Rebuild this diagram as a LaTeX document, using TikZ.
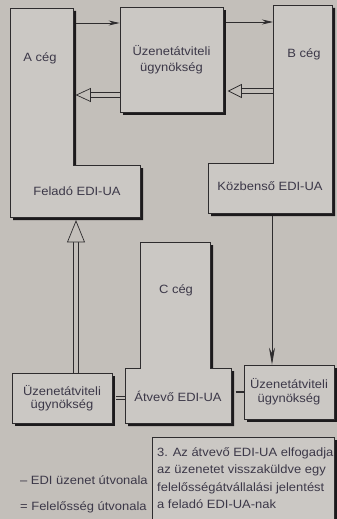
\documentclass[tikz,border=0pt]{standalone}
\usepackage{fontspec}
\setmainfont{Liberation Sans}[FakeStretch=1.08]
\usetikzlibrary{shadows,arrows.meta,calc}
\definecolor{bgc}{HTML}{C3BFBA}
\definecolor{boxc}{HTML}{CBC8C4}
\definecolor{linec}{HTML}{2E2C2E}
\definecolor{shc}{HTML}{1C1A1C}
\definecolor{txtc}{HTML}{3C3848}
\begin{document}
\begin{tikzpicture}[x=1pt,y=-1pt,
  every node/.style={text=txtc, font=\fontsize{12}{15}\selectfont},
  boxline/.style={draw=linec, line width=0.8pt, fill=boxc},
  ubox/.style={boxline, rectangle, inner sep=0pt, align=center,
    drop shadow={shadow xshift=3pt, shadow yshift=-3pt, fill=shc, opacity=1}},
  msg/.style={draw=linec, line width=0.8pt, -{Stealth[length=11pt,width=5pt]}},
  resp/.style={draw=linec, line width=0.7pt, double=bgc, double distance=3.8pt},
  resphead/.style={draw=linec, line width=0.7pt, fill=bgc, line join=miter},
]
\clip (0,0) rectangle (337,519);
\fill[bgc] (0,0) rectangle (337,519);

% ---- A ceg (L shape)
\fill[shc, shift={(3,3)}] (10,8) -- (73,8) -- (73,165) -- (140,165) -- (140,217) -- (10,217) -- cycle;
\draw[boxline] (10,8) -- (73,8) -- (73,165) -- (140,165) -- (140,217) -- (10,217) -- cycle;
\node (acl) at (40,58) {A cég};
\node (afel) at (77,191) {Feladó EDI-UA};

% ---- B ceg (L shape)
\fill[shc, shift={(3,3)}] (273,5) -- (332,5) -- (332,213) -- (208,213) -- (208,163) -- (273,163) -- cycle;
\draw[boxline] (273,5) -- (332,5) -- (332,213) -- (208,213) -- (208,163) -- (273,163) -- cycle;
\node (bcl) at (304,54) {B cég};
\node (bkoz) at (270,186) {Közbenső EDI-UA};

% ---- top agency
\node[ubox, minimum width=103, minimum height=105, font=\fontsize{12}{16}\selectfont] (tuz) at (171.5,59.5) {Üzenetátviteli\\ügynökség};

% ---- connectors at top
\coordinate (aTop) at (76,23);
\coordinate (bTop) at (273,22);
\draw[msg] (aTop) -- (tuz.west |- aTop);
\draw[msg] ($(tuz.east |- bTop)+(3,0)$) -- (bTop);

\coordinate (aMid) at (76.5,95);
\draw[resp] (tuz.west |- aMid) -- ($(aMid)+(12,0)$);
\draw[resphead] (aMid) -- ++(14,-6.5) -- ++(0,13) -- cycle;

\coordinate (bMid) at (273,91);
\coordinate (bTip) at (228.5,91);
\draw[resp] (bMid) -- ($(bTip)+(12,0)$);
\draw[resphead] (bTip) -- ++(13,-6.5) -- ++(0,13) -- cycle;

% ---- lower connector anchors
\coordinate (cL) at (125,398);
\coordinate (cR) at (233,392);
\coordinate (aBot) at (76,221);
\coordinate (bBot) at (272,216);

% ---- C ceg (L shape)
\fill[shc, shift={(3,3)}] (140,242) -- (210,242) -- (210,368) -- (231,368) -- (231,423) -- (125,423) -- (125,368) -- (140,368) -- cycle;
\draw[boxline] (140,242) -- (210,242) -- (210,368) -- (231,368) -- (231,423) -- (125,423) -- (125,368) -- (140,368) -- cycle;
\node (ccl) at (176,290) {C cég};
\node (catv) at (178,396) {Átvevő EDI-UA};

% ---- lower agencies
\node[ubox, minimum width=100, minimum height=50, font=\fontsize{12}{13.5}\selectfont] (luz) at (62,398) {Üzenetátviteli\\ügynökség};
\node[ubox, minimum width=90, minimum height=54, font=\fontsize{12}{14}\selectfont] (ruz) at (289,392) {Üzenetátviteli\\ügynökség};

\draw[resp, double distance=2.6pt] ($(luz.east)+(3.5,0)$) -- (luz.east -| cL);
\draw[draw=linec, line width=2pt] ($(cR)+(2.5,0)$) -- (ruz.west);

\draw[resp, double distance=4.6pt] (luz.north -| aBot) -- ($(aBot)+(0,20)$);
\draw[resphead] (aBot) -- ++(-8.5,21) -- ++(17,0) -- cycle;

\draw[msg, -{Stealth[length=17pt,width=6pt]}] (bBot) -- (ruz.north -| bBot);

% ---- note box
\node[ubox, anchor=north west, minimum width=182, minimum height=100] (tbox) at (152,437) {};
\node[anchor=north west, align=left, inner sep=0pt, font=\fontsize{12}{17.5}\selectfont] (ttext) at ($(tbox.north west)+(5,7)$)
  {\strut 3. Az átvevő EDI-UA elfogadja\\az üzenetet visszaküldve egy\\felelősségátvállalási jelentést\\a feladó EDI-UA-nak};

% ---- legend
\node[anchor=west, inner sep=0pt] (leg1) at (20,480) {– EDI üzenet útvonala};
\node[anchor=west, inner sep=0pt] (leg2) at (20,507) {= Felelősség útvonala};
\end{tikzpicture}
\end{document}
